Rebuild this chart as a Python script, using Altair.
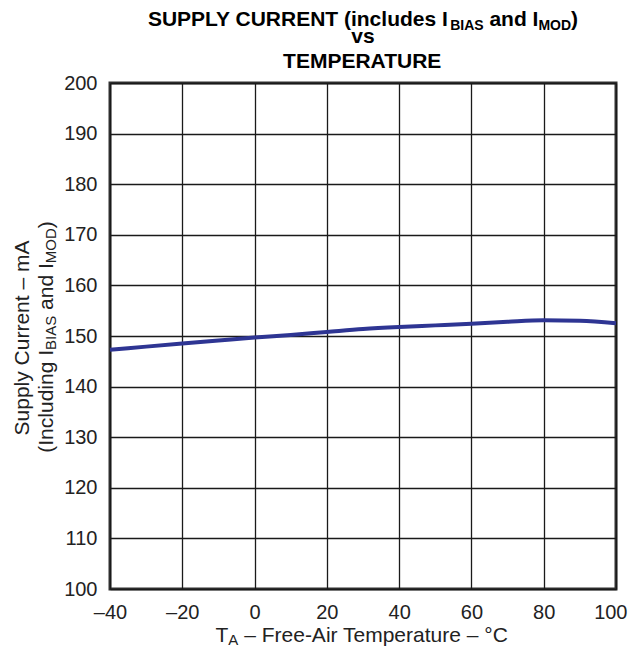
import altair as alt
import pandas as pd

# ---- data ----
temperature_c = [-40, -30, -20, -10, 0, 10, 20, 30, 40, 50, 60, 70, 80, 90, 100]
supply_current_ma = [147.3, 147.9, 148.5, 149.1, 149.7, 150.2, 150.8, 151.4,
                     151.8, 152.1, 152.4, 152.8, 153.1, 153.0, 152.5]
x_ticks = [-40, -20, 0, 20, 40, 60, 80, 100]
y_ticks = [100, 110, 120, 130, 140, 150, 160, 170, 180, 190, 200]

df = pd.DataFrame({"temp": temperature_c, "current": supply_current_ma})

FONT = "Liberation Sans, Arial, Helvetica, sans-serif"
W, H = 506, 506

# Arial / Liberation Sans advance widths (per 1000 em) for rich-text layout
REG = {' ': 278, '(': 333, ')': 333, 'I': 278, 'n': 556, 'c': 500, 'l': 222, 'u': 556,
       'd': 556, 'i': 222, 'g': 556, 'a': 556, 'B': 667, 'A': 667, 'S': 667, 'M': 833,
       'O': 778, 'D': 722, 'T': 611, '–': 556, 'F': 611, 'r': 333, 'e': 556, '-': 333,
       'm': 833, 'p': 556, 't': 278, '°': 400, 'C': 722, 'y': 500}
BOLD = {' ': 278, 'S': 667, 'U': 722, 'P': 667, 'L': 611, 'Y': 667, 'C': 722, 'R': 722,
        'E': 667, 'N': 722, 'T': 611, '(': 333, ')': 333, 'i': 278, 'n': 611, 'c': 556,
        'l': 278, 'u': 611, 'd': 611, 'e': 556, 's': 556, 'I': 278, 'B': 722, 'A': 722,
        'a': 556, 'M': 833, 'O': 778, 'D': 722, 'v': 556}


def twidth(s, size, bold):
    table = BOLD if bold else REG
    return sum(table.get(ch, 556) for ch in s) / 1000.0 * size


def rich(pieces, center, baseline, bold=False, vertical=False, color="#222"):
    """pieces: list of (text, fontsize, shift). Returns list of text charts."""
    total = sum(twidth(t, s, bold) for t, s, _ in pieces)
    charts = []
    cum = 0.0
    for t, s, shift in pieces:
        lead = len(t) - len(t.lstrip(" "))
        start = cum + twidth(" " * lead, s, bold)
        shown = t.strip(" ")
        if vertical:
            pos = dict(x=alt.value(baseline + shift), y=alt.value(center + total / 2 - start))
            angle = 270
        else:
            pos = dict(x=alt.value(center - total / 2 + start), y=alt.value(baseline + shift))
            angle = 0
        c = alt.Chart(pd.DataFrame({"t": [shown]})).mark_text(
            align="left", baseline="alphabetic", fontSize=s, font=FONT,
            fontWeight="bold" if bold else "normal", angle=angle, color=color
        ).encode(text="t:N", **pos)
        charts.append(c)
        cum += twidth(t, s, bold)
    return charts


line = alt.Chart(df).mark_line(color="#2E3593", strokeWidth=4, interpolate="monotone").encode(
    x=alt.X("temp:Q", scale=alt.Scale(domain=[-40, 100], nice=False),
            axis=alt.Axis(values=x_ticks, title=None, grid=True, ticks=False, domain=False,
                          labelExpr="datum.value < 0 ? '–' + abs(datum.value) : '' + datum.value",
                          labelAlign={"condition": {"test": "datum.value == 100", "value": "right"},
                                      "value": "center"},
                          labelOffset={"condition": {"test": "datum.value == 100", "value": 11},
                                       "value": 0},
                          labelPadding=13, labelFontSize=20, labelFont=FONT, labelColor="#222",
                          gridColor="#1a1a1a", gridWidth=1.3, gridOpacity=1,
                          labelFlush=False, labelOverlap=False)),
    y=alt.Y("current:Q", scale=alt.Scale(domain=[100, 200], nice=False),
            axis=alt.Axis(values=y_ticks, title=None, grid=True, ticks=False, domain=False,
                          labelPadding=13, labelFontSize=20, labelFont=FONT, labelColor="#222",
                          gridColor="#1a1a1a", gridWidth=1.3, gridOpacity=1,
                          labelFlush=False, labelOverlap=False)),
)

cx = W / 2
texts = []
# chart title
texts += rich([("SUPPLY CURRENT (includes I", 21, 0), ("BIAS", 14, 3.5), (" and I", 21, 0),
               ("MOD", 14, 3.5), (")", 21, 0)], cx, -57, bold=True, color="#000")
texts += rich([("vs", 21, 0)], cx, -40, bold=True, color="#000")
texts += rich([("TEMPERATURE", 21, 0)], cx, -15.5, bold=True, color="#000")
# x axis title
texts += rich([("T", 21, 0), ("A", 15, 2.5), (" – Free-Air Temperature – °C", 21, 0)],
              cx, H + 53, color="#222")
# y axis title (two rotated lines)
texts += rich([("Supply Current – mA", 21, 0)], H / 2 + 2, -81.5, vertical=True, color="#222")
texts += rich([("(Including I", 21, 0), ("BIAS", 15, 3), (" and I", 21, 0),
               ("MOD", 15, 3), (")", 21, 0)], H / 2 + 1, -57, vertical=True, color="#222")

chart = alt.layer(line, *texts).properties(
    width=W, height=H,
    padding={"left": 102, "top": 75, "right": 12, "bottom": 59},
    autosize=alt.AutoSizeParams(type="none"),
    background="white",
).configure_view(stroke="#333", strokeWidth=3)

chart.save("out.html", embed_options={"renderer": "svg", "actions": False})
